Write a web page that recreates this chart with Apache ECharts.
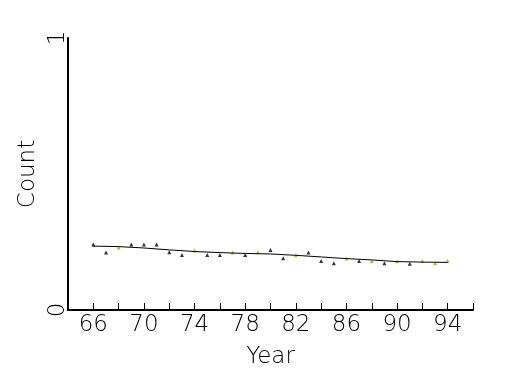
<!DOCTYPE html>
<html><head><meta charset="utf-8">
<script src="https://cdn.jsdelivr.net/npm/echarts@6/dist/echarts.min.js"></script>
<style>html,body{margin:0;padding:0;background:#fff}#c{width:525px;height:375px}</style>
</head><body><div id="c"></div>
<script>
const years = [66,67,68,69,70,71,72,73,74,75,76,77,78,79,80,81,82,83,84,85,86,87,88,89,90,91,92,93,94];
const counts = [0.241,0.211,0.230,0.241,0.241,0.241,0.212,0.202,0.219,0.202,0.202,0.211,0.202,0.212,0.221,0.190,0.201,0.211,0.180,0.172,0.189,0.180,0.179,0.172,0.179,0.170,0.180,0.172,0.180];
const fitYears = [66,68,70,72,74,76,78,80,82,84,86,88,90,92,94];
const fitValues = [0.235,0.233,0.228,0.221,0.215,0.211,0.208,0.206,0.201,0.195,0.189,0.184,0.178,0.176,0.175];
const xTickLabels = [66,70,74,78,82,86,90,94];
const yTickLabels = [0,1];

function fitAt(x){
  for(let i=0;i<fitYears.length-1;i++){
    if(x>=fitYears[i] && x<=fitYears[i+1]){
      const t=(x-fitYears[i])/(fitYears[i+1]-fitYears[i]);
      return fitValues[i]+t*(fitValues[i+1]-fitValues[i]);
    }
  }
  return fitValues[fitValues.length-1];
}
const font = '"DejaVu Sans ExtraLight", "DejaVu Sans Light", "DejaVu Sans", sans-serif';
const chart = echarts.init(document.getElementById('c'), null, {renderer:'canvas'});
chart.setOption({
  backgroundColor:'#fff',
  animation:false,
  grid:{left:68,right:52,top:38,bottom:65,containLabel:false},
  xAxis:{type:'value',min:64,max:96,interval:2,
    name:'Year',nameLocation:'middle',nameGap:36,
    nameTextStyle:{fontFamily:font,fontWeight:200,fontSize:23,color:'#000'},
    axisLine:{lineStyle:{color:'#000',width:2}},
    axisTick:{inside:true,length:7,lineStyle:{color:'#000',width:1}},
    axisLabel:{fontFamily:font,fontWeight:200,fontSize:23,color:'#000',margin:4,
      formatter:v=>xTickLabels.includes(v)?String(v):''},
    splitLine:{show:false}},
  yAxis:{type:'value',min:0,max:1,interval:1,
    name:'Count',nameLocation:'middle',nameGap:26,nameRotate:90,
    nameTextStyle:{fontFamily:font,fontWeight:200,fontSize:23,color:'#000'},
    axisLine:{show:true,lineStyle:{color:'#000',width:2}},
    axisTick:{show:false},
    axisLabel:{fontFamily:font,fontWeight:200,fontSize:23,color:'#000',rotate:90,margin:-2,
      formatter:v=>yTickLabels.includes(v)?String(v):''},
    splitLine:{show:false}},
  series:[
    {type:'scatter',symbol:'triangle',symbolSize:4,
      data:years.map((y,i)=>({value:[y,counts[i]],
        itemStyle:{color:Math.abs(counts[i]-fitAt(y))<0.0055?'#a8a800':'#000'}})),
      z:2},
    {type:'line',data:fitYears.map((y,i)=>[y,fitValues[i]]),showSymbol:false,
      lineStyle:{color:'#000',width:1},z:3}
  ]
});
</script></body></html>
